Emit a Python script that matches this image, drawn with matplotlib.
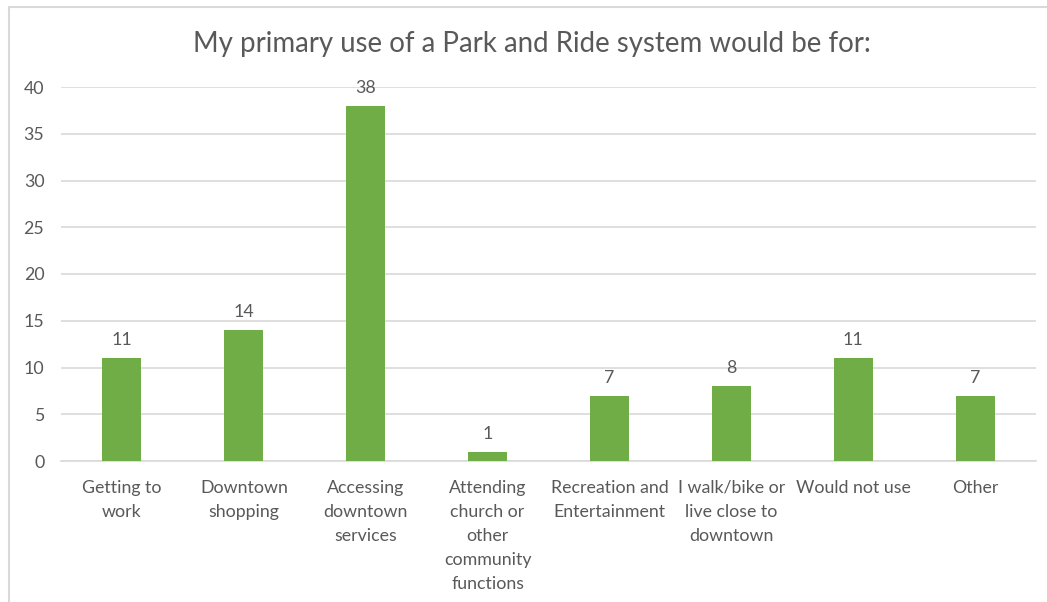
import matplotlib
matplotlib.use("Agg")
import matplotlib.pyplot as plt
from matplotlib.patches import Rectangle
import numpy as np

categories = [
    "Getting to\nwork",
    "Downtown\nshopping",
    "Accessing\ndowntown\nservices",
    "Attending\nchurch or\nother\ncommunity\nfunctions",
    "Recreation and\nEntertainment",
    "I walk/bike or\nlive close to\ndowntown",
    "Would not use",
    "Other",
]
counts = [11, 14, 38, 1, 7, 8, 11, 7]
title = "My primary use of a Park and Ride system would be for:"

text_color = "#595959"
bar_color = "#70AD47"
grid_color = "#D9D9D9"

plt.rcParams["font.family"] = ["Lato", "DejaVu Sans"]

fig = plt.figure(figsize=(10.47, 6.02), dpi=100)
ax = fig.add_axes([61 / 1047, 1 - 461 / 602, (1036 - 61) / 1047, (461 - 87) / 602])

# chart border like the spreadsheet frame
fig.patches.append(Rectangle((9 / 1047, -0.05), 1.1, 1 - 7 / 602 + 0.05,
                             transform=fig.transFigure, fill=False,
                             edgecolor=grid_color, linewidth=1.5))

x = np.arange(len(categories))
bars = ax.bar(x, counts, width=0.32, color=bar_color, zorder=3)
for b, v in zip(bars, counts):
    ax.annotate(str(v), (b.get_x() + b.get_width() / 2, v), xytext=(0, 7),
                textcoords="offset points", ha="center", va="bottom",
                fontsize=12.8, color=text_color)

ax.set_xlim(-0.5, len(categories) - 0.5)
ax.set_ylim(0, 40)
ax.set_yticks(range(0, 41, 5))
ax.grid(axis="y", color=grid_color, linewidth=1.2, zorder=0)
ax.set_xticks(x)
ax.set_xticklabels(categories, fontsize=12.8, color=text_color, linespacing=1.62)
ax.tick_params(axis="both", length=0, labelsize=12.8, labelcolor=text_color)
ax.tick_params(axis="y", pad=12)
ax.tick_params(axis="x", pad=13.5)
for s in ["top", "right", "left"]:
    ax.spines[s].set_visible(False)
ax.spines["bottom"].set_color(grid_color)
ax.spines["bottom"].set_linewidth(1.2)

fig.text(532 / 1047, 1 - 44 / 602, title, ha="center", va="center",
         fontsize=19.9, color=text_color)

fig.savefig("out.png", dpi=100)
